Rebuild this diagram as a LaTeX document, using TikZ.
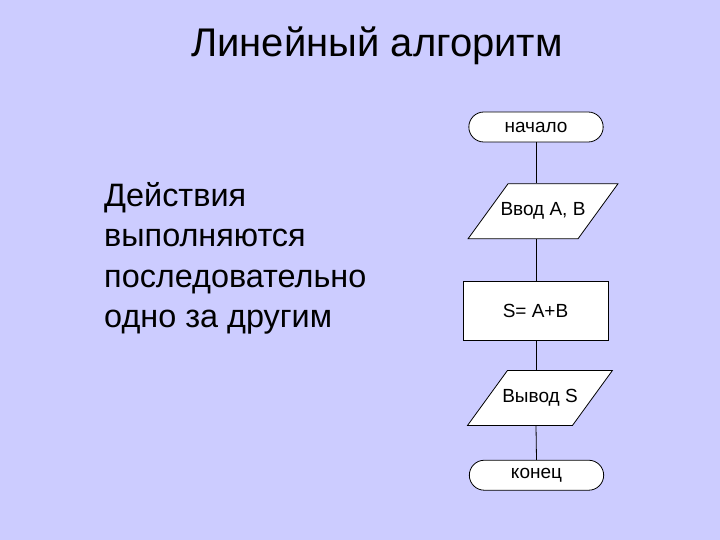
\documentclass[tikz,border=0pt]{standalone}
\usepackage{fontspec}
\setmainfont{Liberation Sans}
\usetikzlibrary{shapes.geometric, shapes.misc, positioning}

\definecolor{slidebg}{HTML}{CCCCFF}

\begin{document}
\begin{tikzpicture}[
    x=1pt, y=-1pt,
    % Define styles
    terminal/.style={
        rounded rectangle,
        draw=black,
        fill=white,
        line width=0.8pt,
        minimum width=141pt,
        minimum height=30pt,
        font=\fontsize{19}{22}\selectfont
    },
    io/.style={
        trapezium,
        trapezium left angle=54,
        trapezium right angle=126,
        draw=black,
        fill=white,
        line width=0.8pt,
        inner xsep=0pt,
        inner ysep=19pt,
        text height=13pt,
        text depth=4pt,
        font=\fontsize{19}{22}\selectfont
    },
    process/.style={
        rectangle,
        draw=black,
        fill=white,
        line width=0.8pt,
        minimum width=145pt,
        minimum height=59pt,
        font=\fontsize{19}{22}\selectfont
    },
    link/.style={
        draw,
        line width=0.8pt
    }
]

% Background
\fill[slidebg] (0,0) rectangle (720,540);
\useasboundingbox (0,0) rectangle (720,540);

% Title and text
\node (title) at (377,46) {\fontsize{40}{46}\selectfont Линейный алгоритм};
\node[anchor=north west, align=left, inner sep=0pt,
      font=\fontsize{32.4}{40.5}\selectfont] (desc) at (104,182)
    {Действия\\выполняются\\последовательно\\одно за другим};

% Flowchart
\node[terminal] (start) at (536,127) {начало};
\node[io, below=41pt of start, xshift=7pt] (in) {\makebox[70pt]{Ввод A, B}};
\node[process, below=42pt of in, xshift=-7.5pt] (calc) {S= A+B};
\node[io, below=29pt of calc, xshift=4.5pt] (out) {\makebox[65pt]{Вывод S}};
\node[terminal, below=34pt of out, xshift=-3.5pt] (stop) {конец};

% Connectors
\path[link] (start.south) -- (start.south |- in.north);
\path[link] (start.south |- in.south) -- (start.south |- calc.north);
\path[link] (start.south |- calc.south) -- (start.south |- out.north);
\path[link] (start.south |- out.south) -- (stop.north);

\end{tikzpicture}
\end{document}
